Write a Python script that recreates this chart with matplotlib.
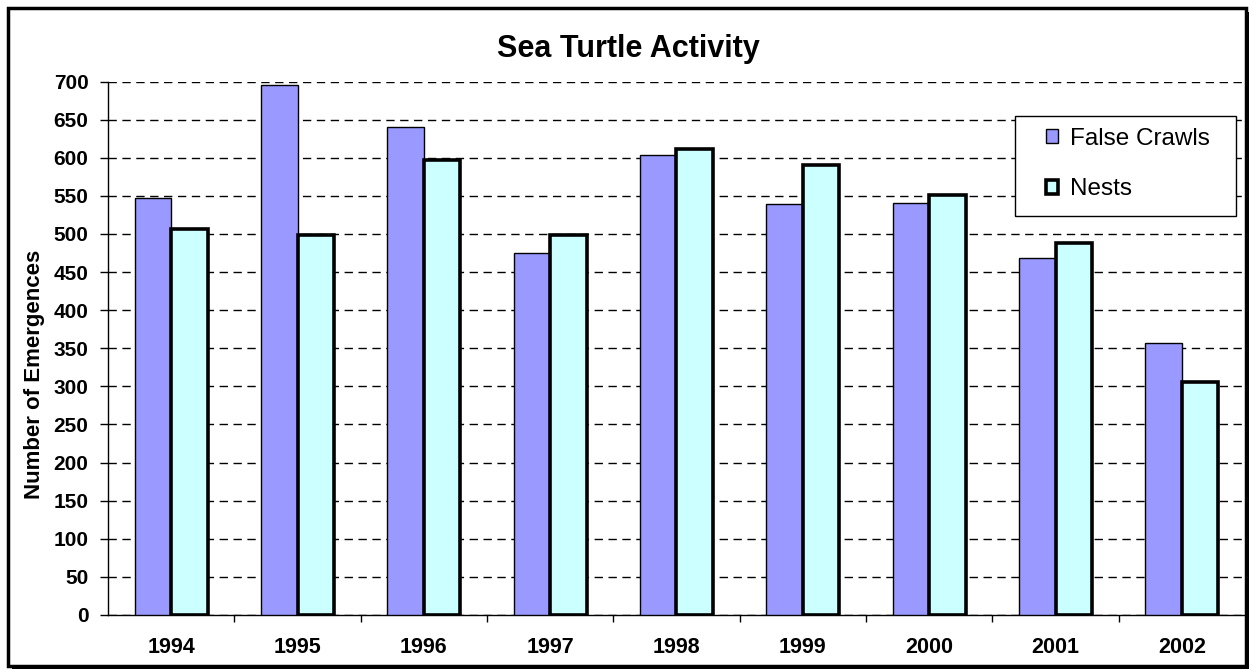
import matplotlib
matplotlib.use("Agg")
import matplotlib.pyplot as plt
from matplotlib.patches import Rectangle
import numpy as np

years = ["1994", "1995", "1996", "1997", "1998", "1999", "2000", "2001", "2002"]
false_crawls = [547, 695, 640, 475, 604, 539, 541, 469, 357]
nests = [506, 498, 597, 498, 611, 591, 551, 488, 306]
yticks = list(range(0, 701, 50))

plt.rcParams['font.family'] = ['Liberation Sans', 'DejaVu Sans']

W, H = 1253, 671
fig = plt.figure(figsize=(W / 100, H / 100), dpi=100)
ax = fig.add_axes([108 / W, 1 - 615 / H, (1245 - 108) / W, (615 - 81.5) / H])

x = np.arange(len(years))
bw = 0.29
ax.bar(x - bw / 2, false_crawls, width=bw, color='#9999FF', edgecolor='black',
       linewidth=1.0, label='False Crawls', zorder=3)
ax.bar(x + bw / 2, nests, width=bw, color='#CCFFFF', edgecolor='black',
       linewidth=2.6, label='Nests', zorder=3)

ax.set_xlim(-0.5, len(years) - 0.5)
ax.set_ylim(0, 700)
ax.set_yticks(yticks)
ax.set_yticklabels([str(v) for v in yticks], fontsize=15, fontweight='bold')
ax.set_xticks(x)
ax.set_xticklabels(years, fontsize=15.5, fontweight='bold')
ax.tick_params(axis='x', which='major', length=0, pad=16)
ax.set_xticks(np.arange(0.5, len(years) - 0.5, 1.0), minor=True)
ax.tick_params(axis='x', which='minor', length=5, width=1, direction='out')
ax.tick_params(axis='y', length=6, width=1, direction='out', pad=8)

ax.yaxis.grid(True, linestyle=(0, (6, 4)), color='black', linewidth=1.0, zorder=0)
ax.set_axisbelow(True)
for s in ['top', 'right']:
    ax.spines[s].set_visible(False)
ax.spines['left'].set_linewidth(1)
ax.spines['bottom'].set_linewidth(1)

fig.text(35 / W, 1 - 374 / H, 'Number of Emergences', fontsize=16, fontweight='bold',
         rotation=90, ha='center', va='center')

fig.text(628 / W, 1 - 49 / H, 'Sea Turtle Activity', fontsize=22, fontweight='bold',
         ha='center', va='center')

leg = ax.legend(loc='center left', bbox_to_anchor=(1046 / W, 1 - 164 / H),
                bbox_transform=fig.transFigure, fontsize=17.5, frameon=False,
                borderaxespad=0, borderpad=0,
                handlelength=0.5, handleheight=0.5, handletextpad=0.5,
                labelspacing=1.17)
leg.set_zorder(6)
ax.add_patch(Rectangle((1015 / W, 1 - 215.7 / H), (1236 - 1015) / W, 100 / H,
                       transform=fig.transFigure, facecolor='white',
                       edgecolor='black', linewidth=1.0, zorder=5, clip_on=False))

# outer frame with shadow
fig.patches.append(Rectangle((8 / W, 1 - 666 / H), (1246 - 8) / W, (666 - 8) / H,
                             transform=fig.transFigure, fill=False,
                             edgecolor='black', linewidth=2.5))
fig.patches.append(Rectangle((1246 / W, 1 - 668 / H), 3 / W, (668 - 12) / H,
                             transform=fig.transFigure, facecolor='black',
                             edgecolor='none'))
fig.patches.append(Rectangle((12 / W, 1 - 669 / H), (1249 - 12) / W, 3 / H,
                             transform=fig.transFigure, facecolor='black',
                             edgecolor='none'))

fig.savefig('out.png', dpi=100)
